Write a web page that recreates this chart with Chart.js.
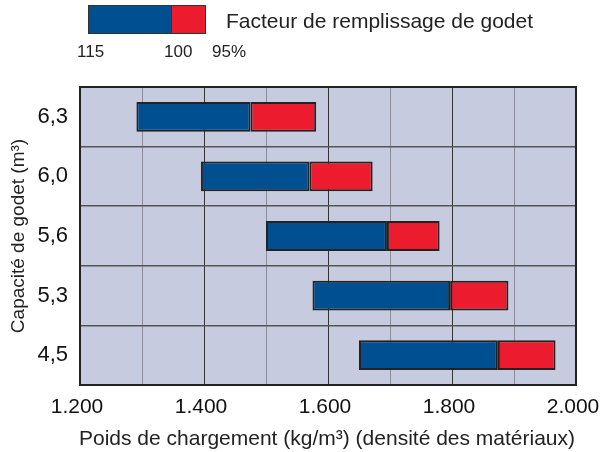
<!DOCTYPE html>
<html>
<head>
<meta charset="utf-8">
<script src="https://cdn.jsdelivr.net/npm/chart.js@4.4.1/dist/chart.umd.min.js"></script>
<style>
  body { margin: 0; background: #fff; font-family: "Liberation Sans", Arial, sans-serif; }
  #wrap { position: relative; width: 601px; height: 452px; }
  .legbox { position: absolute; top: 5px; height: 29px; box-sizing: border-box; border: 1px solid #333; }
  .txt { position: absolute; color: #222; white-space: nowrap; }
</style>
</head>
<body>
<div id="wrap">
  <canvas id="mainChart"></canvas>
  <div class="legbox" style="left:88px;width:84px;background:#004f91;border-right:none;"></div>
  <div class="legbox" style="left:171px;width:35px;background:#ec1c2e;"></div>
  <div class="txt" style="left:226px;top:9px;font-size:21px;line-height:24px;">Facteur de remplissage de godet</div>
  <div class="txt" style="left:77px;top:42px;font-size:17px;line-height:20px;">115</div>
  <div class="txt" style="left:164px;top:42px;font-size:17px;line-height:20px;">100</div>
  <div class="txt" style="left:212px;top:42px;font-size:17px;line-height:20px;">95%</div>
  <div class="txt" style="left:79px;top:426px;font-size:21px;line-height:24px;">Poids de chargement (kg/m³) (densité des matériaux)</div>
</div>
<script>
// bucket capacity (m3), top to bottom
const categories = ['6,3', '6,0', '5,6', '5,3', '4,5'];
// load density (kg/m3) at 115%, 100% and 95% fill factor
const fill115 = [1291, 1395, 1500, 1575, 1650];
const fill100 = [1475, 1570, 1695, 1797, 1874];
const fill95 = [1581, 1672, 1780, 1891, 1967];
const xTicks = [1200, 1400, 1600, 1800, 2000];

const plotBg = {
    id: 'plotBg',
    beforeDraw(chart) {
        const a = chart.chartArea;
        const ctx = chart.ctx;
        ctx.save();
        ctx.fillStyle = '#c6cbdf';
        ctx.fillRect(a.left, a.top, a.right - a.left, a.bottom - a.top);
        ctx.restore();
    },
    afterDraw(chart) {
        const a = chart.chartArea;
        const ctx = chart.ctx;
        ctx.save();
        ctx.strokeStyle = '#222';
        ctx.lineWidth = 2;
        ctx.strokeRect(a.left, a.top, a.right - a.left, a.bottom - a.top);
        ctx.restore();
    }
};

const ctx = document.getElementById('mainChart').getContext('2d');
window.myChart = new Chart(ctx, {
    type: 'bar',
    data: {
        labels: categories,
        datasets: [{
            label: '115-100',
            data: categories.map((c, i) => [fill115[i], fill100[i]]),
            backgroundColor: '#004f91',
            borderColor: '#222',
            borderWidth: 2,
            borderSkipped: false,
            grouped: false
        }, {
            label: '100-95',
            data: categories.map((c, i) => [fill100[i], fill95[i]]),
            backgroundColor: '#ec1c2e',
            borderColor: '#222',
            borderWidth: 2,
            borderSkipped: false,
            grouped: false
        }]
    },
    options: {
        indexAxis: 'y',
        responsive: true,
        maintainAspectRatio: false,
        animation: false,
        categoryPercentage: 1,
        barPercentage: 0.5,
        layout: { padding: { top: 87, right: 25, left: 0, bottom: 0 } },
        plugins: { legend: { display: false }, tooltip: { enabled: false } },
        scales: {
            x: {
                min: 1200,
                max: 2000,
                ticks: {
                    stepSize: 100,
                    autoSkip: false,
                    maxRotation: 0,
                    padding: 10,
                    labelOffset: -3,
                    color: '#111',
                    font: { family: 'Liberation Sans', size: 21 },
                    callback: v => xTicks.includes(v) ? (v / 1000).toFixed(3) : ''
                },
                grid: {
                    drawTicks: false,
                    color: c => (c.tick && c.tick.value % 200 === 0) ? '#333' : '#8c8c9a',
                    lineWidth: 1
                },
                border: { display: false },
                afterFit: s => { s.height = 67; s.paddingLeft = 0; s.paddingRight = 0; }
            },
            y: {
                ticks: {
                    padding: 12,
                    color: '#111',
                    font: { family: 'Liberation Sans', size: 22 }
                },
                grid: {
                    drawTicks: false,
                    offset: true,
                    color: '#555',
                    lineWidth: 1.5
                },
                border: { display: false },
                title: {
                    display: true,
                    text: 'Capacité de godet (m³)',
                    color: '#222',
                    font: { family: 'Liberation Sans', size: 19 },
                    padding: { top: 7, bottom: 0 }
                },
                afterFit: s => { s.width = 80; s.paddingTop = 0; s.paddingBottom = 0; }
            }
        }
    },
    plugins: [plotBg]
});
</script>
</body>
</html>
